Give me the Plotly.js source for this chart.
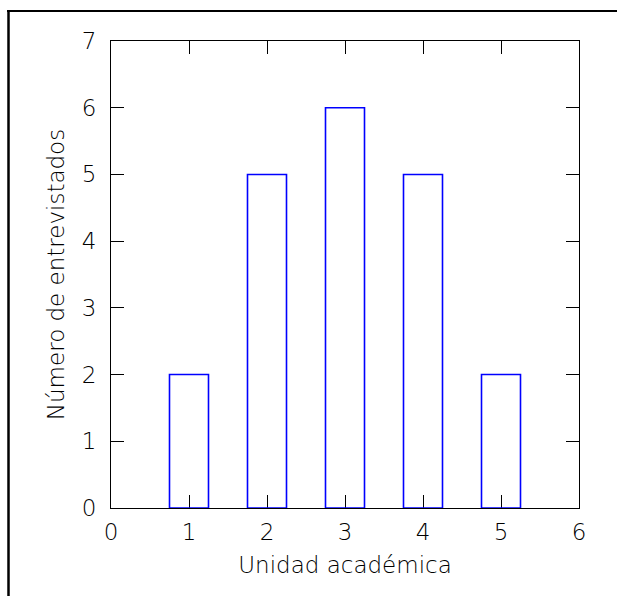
<!DOCTYPE html>
<html>
<head>
<meta charset="utf-8">
<script src="https://cdn.plot.ly/plotly-3.0.1.min.js"></script>
<style>html,body{margin:0;padding:0;background:#fff;}#chart{width:617px;height:596px;}</style>
</head>
<body>
<div id="chart"></div>
<script>
const unidades = [1, 2, 3, 4, 5];
const entrevistados = [2, 5, 6, 5, 2];
const xTicks = [0, 1, 2, 3, 4, 5, 6];
const yTicks = [0, 1, 2, 3, 4, 5, 6, 7];
const xLabel = 'Unidad académica';
const yLabel = 'Número de entrevistados';

const W = 617, H = 596, mL = 111, mR = 38, mT = 41, mB = 88;
const pw = W - mL - mR, ph = H - mT - mB;
const px = v => (v - mL) / pw;
const py = v => (H - mB - v) / ph;

const font = {family: 'DejaVu Sans', size: 23, color: '#000', weight: 200};

const trace = {
  type: 'bar', x: unidades, y: entrevistados, width: 0.5,
  marker: {color: 'rgba(255,255,255,0)', line: {color: '#0000ff', width: 1.6}},
  cliponaxis: false,
  hoverinfo: 'none'
};

const axisCommon = {
  showline: true, linecolor: '#000', linewidth: 1, mirror: 'allticks',
  ticks: 'inside', ticklen: 13, tickcolor: '#000', tickwidth: 1,
  showgrid: false, zeroline: false, tickfont: font, layer: 'below traces'
};

const layout = {
  width: W, height: H,
  margin: {l: mL, r: mR, t: mT, b: mB},
  paper_bgcolor: '#fff', plot_bgcolor: '#fff',
  showlegend: false,
  xaxis: Object.assign({}, axisCommon, {
    range: [0, 6], tickvals: xTicks, ticktext: xTicks.map(String),
    ticklabelstandoff: 3,
    title: {text: xLabel, font: font, standoff: 13}
  }),
  yaxis: Object.assign({}, axisCommon, {
    range: [0, 7], tickvals: yTicks, ticktext: yTicks.map(String),
    ticklabelstandoff: 9,
    title: {text: yLabel, font: font, standoff: 10}
  }),
  shapes: [
    {type: 'line', xref: 'paper', yref: 'paper', x0: px(7), x1: px(617), y0: py(11), y1: py(11), line: {color: '#000', width: 2}},
    {type: 'line', xref: 'paper', yref: 'paper', x0: px(8.5), x1: px(8.5), y0: py(10), y1: py(596), line: {color: '#000', width: 2.5}}
  ]
};

Plotly.newPlot('chart', [trace], layout, {staticPlot: true, displayModeBar: false});
</script>
</body>
</html>
